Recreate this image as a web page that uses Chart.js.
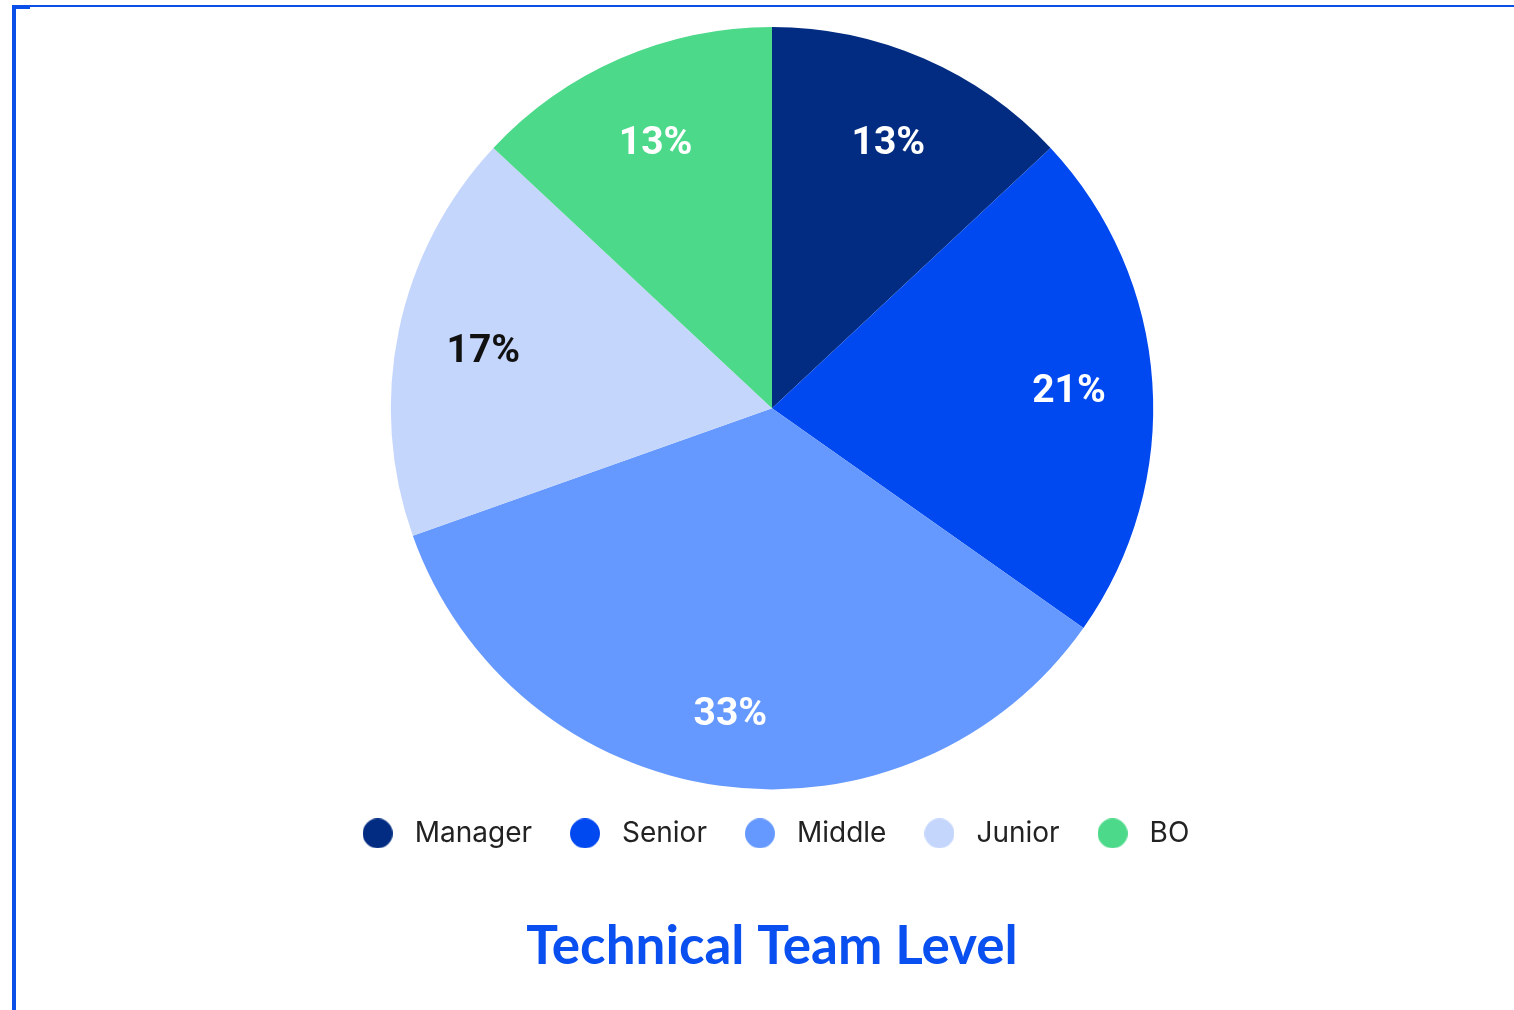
<!DOCTYPE html>
<html>
<head>
<meta charset="utf-8">
<script src="https://cdn.jsdelivr.net/npm/chart.js@4"></script>
<style>
  html, body { margin: 0; padding: 0; background: #fff; overflow: hidden; width: 1514px; height: 1010px; }
  #frame { position: absolute; left: 12px; top: 5px; width: 1520px; height: 1020px;
           border-left: 4px solid #0A4FE8; border-top: 2px solid #0A4FE8; box-sizing: border-box; }
  #tab { position: absolute; left: 12px; top: 5px; width: 18px; height: 4px; background: #0A4FE8; }
  #wrap { position: absolute; left: 16px; top: 7px; width: 1512px; height: 1003px; }
</style>
</head>
<body>
<div id="frame"></div>
<div id="tab"></div>
<div id="wrap"><canvas id="c"></canvas></div>
<script>
// ---- data ----
const categories = ["Manager", "Senior", "Middle", "Junior", "BO"];
const headcount = [3, 5, 8, 4, 3];
const percentLabels = ["13%", "21%", "33%", "17%", "13%"];
const sliceColors = ["#012C82", "#0048F0", "#6699FF", "#C5D6FD", "#4CD98A"];
const labelColors = ["#ffffff", "#ffffff", "#ffffff", "#111111", "#ffffff"];
const chartTitle = "Technical Team Level";

// legend dot images
function makeDot(color) {
  const cv = document.createElement('canvas');
  cv.width = 30; cv.height = 30;
  const g = cv.getContext('2d');
  g.fillStyle = color;
  g.beginPath(); g.arc(15, 15, 15, 0, Math.PI * 2); g.fill();
  return cv;
}
const dots = sliceColors.map(makeDot);

const sliceLabelPlugin = {
  id: 'sliceLabels',
  afterDatasetsDraw(chart) {
    const ctx = chart.ctx;
    const meta = chart.getDatasetMeta(0);
    const size = 39;
    ctx.save();
    ctx.font = 'bold ' + size + 'px Roboto';
    ctx.textAlign = 'center';
    ctx.textBaseline = 'alphabetic';
    meta.data.forEach((arc, i) => {
      const p = arc.getProps(['x', 'y', 'startAngle', 'endAngle', 'outerRadius'], true);
      const span = p.endAngle - p.startAngle;
      const mid = (p.startAngle + p.endAngle) / 2;
      const r = p.outerRadius * (0.744 + 0.027 * span);
      ctx.fillStyle = labelColors[i];
      ctx.fillText(percentLabels[i], p.x + Math.cos(mid) * r, p.y + Math.sin(mid) * r + size * 0.711 / 2);
    });
    ctx.restore();
  }
};

new Chart(document.getElementById('c'), {
  type: 'pie',
  data: {
    labels: categories,
    datasets: [{
      data: headcount,
      backgroundColor: sliceColors,
      borderWidth: 0
    }]
  },
  options: {
    responsive: true,
    maintainAspectRatio: false,
    animation: false,
    layout: { padding: { top: 20, left: 0, right: 0, bottom: 0 } },
    plugins: {
      tooltip: { enabled: false },
      legend: {
        position: 'bottom',
        labels: {
          usePointStyle: true,
          pointStyleWidth: 46,
          boxHeight: 28,
          padding: 30,
          color: '#222222',
          font: { family: 'Inter', size: 28 },
          generateLabels(chart) {
            const ds = chart.data.datasets[0];
            return chart.data.labels.map((l, i) => ({
              text: l,
              fillStyle: ds.backgroundColor[i],
              strokeStyle: ds.backgroundColor[i],
              lineWidth: 0,
              pointStyle: dots[i],
              fontColor: '#222222',
              hidden: !chart.getDataVisibility(i),
              index: i
            }));
          }
        }
      },
      title: {
        display: true,
        text: chartTitle,
        position: 'bottom',
        color: '#0A4FF0',
        font: { family: 'Lato', size: 53, weight: 'bold' },
        padding: { top: 58, bottom: 31 }
      }
    }
  },
  plugins: [sliceLabelPlugin]
});
</script>
</body>
</html>
